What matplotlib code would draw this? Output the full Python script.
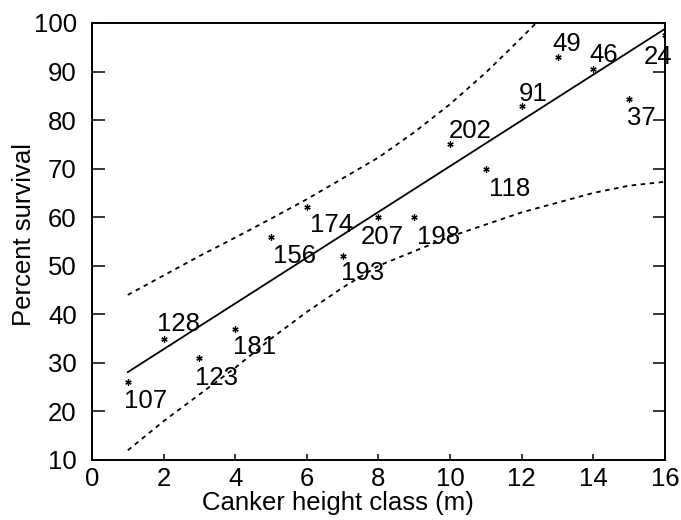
import matplotlib
matplotlib.use("Agg")
import matplotlib.pyplot as plt

plt.rcParams["font.family"] = ["Liberation Sans", "DejaVu Sans"]

# height class (m), percent survival, number of trees
height_class = [1, 2, 3, 4, 5, 6, 7, 8, 9, 10, 11, 12, 13, 14, 15, 16]
survival = [26, 35, 31, 37, 56, 62, 52, 60, 60, 75, 70, 83, 93, 90.5, 84.3, 97.5]
n_trees = ["107", "128", "123", "181", "156", "174", "193", "207",
           "198", "202", "118", "91", "49", "46", "37", "24"]

# fitted line
fit_x = [1, 16]
fit_y = [28.1, 98.8]

# confidence limits
upper_x = [1, 2, 3, 4, 5, 6, 7, 8, 9, 10, 11, 12, 13]
upper_y = [44, 48, 52, 55.8, 59.7, 63.7, 68, 72.3, 77.5, 83.3, 89.8, 97, 104.5]
lower_x = [1, 2, 3, 4, 5, 6, 7, 8, 9, 10, 11, 12, 13, 14, 15, 16]
lower_y = [12, 18, 23.5, 29, 35, 40.5, 45.5, 50, 53, 56, 58.5, 61, 63, 65, 66.5, 67.3]

# label placement (pixels from the point)
label_offsets = [(18, -19), (15, 15), (17, -20), (19, -18), (23, -19), (25, -18),
                 (20, -17), (4, -20), (24, -20), (20, 13), (24, -20), (11, 12),
                 (9, 13), (10, 14), (12, -19), (-7, -22)]

fig = plt.figure(figsize=(6.81, 5.20), dpi=100)
ax = fig.add_axes([0.1351, 0.1154, 0.9765 - 0.1351, 0.9558 - 0.1154])

ax.plot(fit_x, fit_y, color="black", lw=1.3)
ax.plot(upper_x, upper_y, color="black", lw=1.3, ls=(0, (2.5, 2.5)))
ax.plot(lower_x, lower_y, color="black", lw=1.3, ls=(0, (2.5, 2.5)))
ax.plot(height_class, survival, ls="none", marker=(6, 2, 0), ms=4.5,
        mew=0.9, color="black")

for x, y, lab, off in zip(height_class, survival, n_trees, label_offsets):
    ax.annotate(lab, (x, y), xytext=off, textcoords="offset pixels",
                ha="center", va="center", fontsize=18.5)

ax.set_xlim(0, 16)
ax.set_ylim(10, 100)
ax.set_xticks(range(0, 17, 2))
ax.set_yticks(range(10, 101, 10))

for s in ax.spines.values():
    s.set_linewidth(1.4)

ax.tick_params(axis="x", direction="in", length=4.5, width=1.1,
               labelsize=18.5, pad=5)
ax.tick_params(axis="y", direction="in", length=9, width=1.1,
               labelsize=18.5, pad=11, right=True)

ax.set_xlabel("Canker height class (m)", fontsize=18.5)
ax.set_ylabel("Percent survival", fontsize=18.5)
ax.xaxis.set_label_coords(0.429, -0.071)
ax.yaxis.set_label_coords(-0.097, 0.515)

fig.savefig("out.png", dpi=100)
